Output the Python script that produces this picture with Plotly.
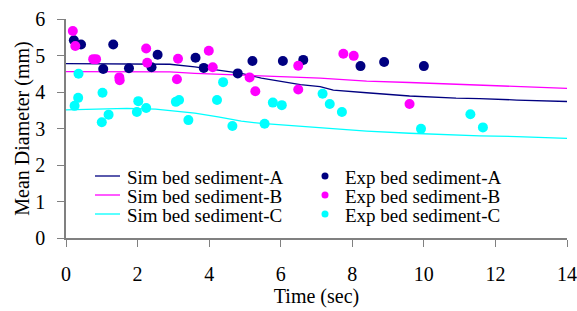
import plotly.graph_objects as go

# ---- data ----
sim_t = [0, 0.9, 1.7, 2.5, 2.9, 3.6, 4.25, 4.9, 5.46, 6.0, 6.55, 7.1, 7.47, 8.4, 9.6, 10.9, 11.56, 12.6, 14.0]
sim_A = [4.78, 4.78, 4.78, 4.78, 4.76, 4.69, 4.60, 4.51, 4.38, 4.29, 4.20, 4.15, 4.05, 3.98, 3.89, 3.83, 3.82, 3.78, 3.74]
sim_B = [4.56, 4.56, 4.56, 4.56, 4.55, 4.51, 4.49, 4.47, 4.45, 4.43, 4.40, 4.38, 4.36, 4.30, 4.26, 4.21, 4.19, 4.16, 4.10]
sim_C = [3.51, 3.53, 3.55, 3.53, 3.49, 3.42, 3.32, 3.20, 3.14, 3.10, 3.07, 3.03, 3.00, 2.93, 2.87, 2.82, 2.80, 2.78, 2.73]

exp_A_t = [0.22, 0.42, 1.32, 1.04, 1.76, 2.56, 2.39, 3.62, 3.85, 4.80, 5.21, 6.06, 6.63, 8.23, 8.89, 10.0]
exp_A_v = [5.42, 5.30, 5.30, 4.63, 4.65, 5.02, 4.68, 4.94, 4.66, 4.51, 4.85, 4.85, 4.88, 4.71, 4.82, 4.71]

exp_B_t = [0.19, 0.26, 0.76, 0.84, 1.49, 1.50, 2.24, 2.27, 3.13, 3.10, 3.99, 4.10, 5.13, 5.29, 6.49, 6.49, 7.75, 8.04, 9.60]
exp_B_v = [5.67, 5.26, 4.90, 4.90, 4.40, 4.32, 5.19, 4.80, 4.91, 4.35, 5.13, 4.68, 4.40, 4.02, 4.72, 4.07, 5.05, 4.99, 3.67]

exp_C_t = [0.35, 0.34, 0.24, 1.02, 1.19, 1.00, 2.02, 1.98, 2.24, 3.07, 3.16, 3.42, 4.22, 4.39, 4.65,
           5.55, 5.78, 6.03, 7.17, 7.37, 7.71, 9.92, 11.30, 11.65]
exp_C_v = [4.50, 3.84, 3.62, 3.98, 3.38, 3.17, 3.75, 3.45, 3.56, 3.73, 3.78, 3.23, 3.78, 4.27, 3.07,
           3.13, 3.71, 3.64, 3.95, 3.67, 3.45, 2.99, 3.39, 3.03]

sim_names = ["Sim bed sediment-A", "Sim bed sediment-B", "Sim bed sediment-C"]
exp_names = ["Exp bed sediment-A", "Exp bed sediment-B", "Exp bed sediment-C"]
x_ticks = [0, 2, 4, 6, 8, 10, 12, 14]
y_ticks = [0, 1, 2, 3, 4, 5, 6]

colors = ["#000080", "#FF00FF", "#00FFFF"]
FONT = "Liberation Serif"

fig = go.Figure()
for name, vals, c in zip(sim_names, [sim_A, sim_B, sim_C], colors):
    fig.add_trace(go.Scatter(x=sim_t, y=vals, mode="lines", name=name,
                             line=dict(color=c, width=1.3), showlegend=False))
for name, tt, vv, c in zip(exp_names, [exp_A_t, exp_B_t, exp_C_t], [exp_A_v, exp_B_v, exp_C_v], colors):
    fig.add_trace(go.Scatter(x=tt, y=vv, mode="markers", name=name,
                             marker=dict(color=c, size=10, line=dict(width=0)), showlegend=False))

# ---- custom compact legend (paper coords) ----
W0, W1, H0, H1 = 66, 567, 19, 238
def px(x): return (x - W0) / (W1 - W0)
def py(y): return (H1 - y) / (H1 - H0)
rows = [176, 195, 214]
shapes = []
annots = []
for i, r in enumerate(rows):
    shapes.append(dict(type="line", xref="paper", yref="paper", x0=px(95), x1=px(120),
                       y0=py(r), y1=py(r), line=dict(color=colors[i], width=1.3)))
    shapes.append(dict(type="circle", xref="paper", yref="paper", x0=px(321.5), x1=px(328.5),
                       y0=py(r + 3.5), y1=py(r - 3.5), fillcolor=colors[i], line=dict(width=0)))
    annots.append(dict(xref="paper", yref="paper", x=px(125), y=py(r + 1), text=sim_names[i],
                       showarrow=False, xanchor="left", yanchor="middle",
                       font=dict(family=FONT, size=19, color="black")))
    annots.append(dict(xref="paper", yref="paper", x=px(343), y=py(r + 1), text=exp_names[i],
                       showarrow=False, xanchor="left", yanchor="middle",
                       font=dict(family=FONT, size=19, color="black")))

fig.update_layout(
    width=577, height=311, autosize=False,
    margin=dict(l=66, r=10, t=19, b=73, autoexpand=False),
    paper_bgcolor="white", plot_bgcolor="white",
    font=dict(family=FONT, size=20, color="black"),
    shapes=shapes, annotations=annots,
    xaxis=dict(range=[0, 14], tickvals=x_ticks, ticktext=[str(v) for v in x_ticks],
               automargin=False,
               showgrid=False, zeroline=False, showline=True, linecolor="#808080", linewidth=1.5,
               ticks="outside", ticklen=7, tickcolor="#808080", tickwidth=1,
               ticklabelstandoff=10, tickfont=dict(family=FONT, size=20),
               title=dict(text="Time (sec)", standoff=0, font=dict(family=FONT, size=20))),
    yaxis=dict(range=[0, 6], tickvals=y_ticks, ticktext=[str(v) for v in y_ticks],
               automargin=False,
               showgrid=False, zeroline=False, showline=True, linecolor="#808080", linewidth=1.5,
               ticks="outside", ticklen=7, tickcolor="#808080", tickwidth=1,
               ticklabelstandoff=8, tickfont=dict(family=FONT, size=20),
               title=dict(text="Mean Diameter (mm)", standoff=0, font=dict(family=FONT, size=20))),
)

fig.write_html("out.html", config={"displayModeBar": False},
               post_script="document.body.style.margin='0';document.body.style.overflow='hidden';")
